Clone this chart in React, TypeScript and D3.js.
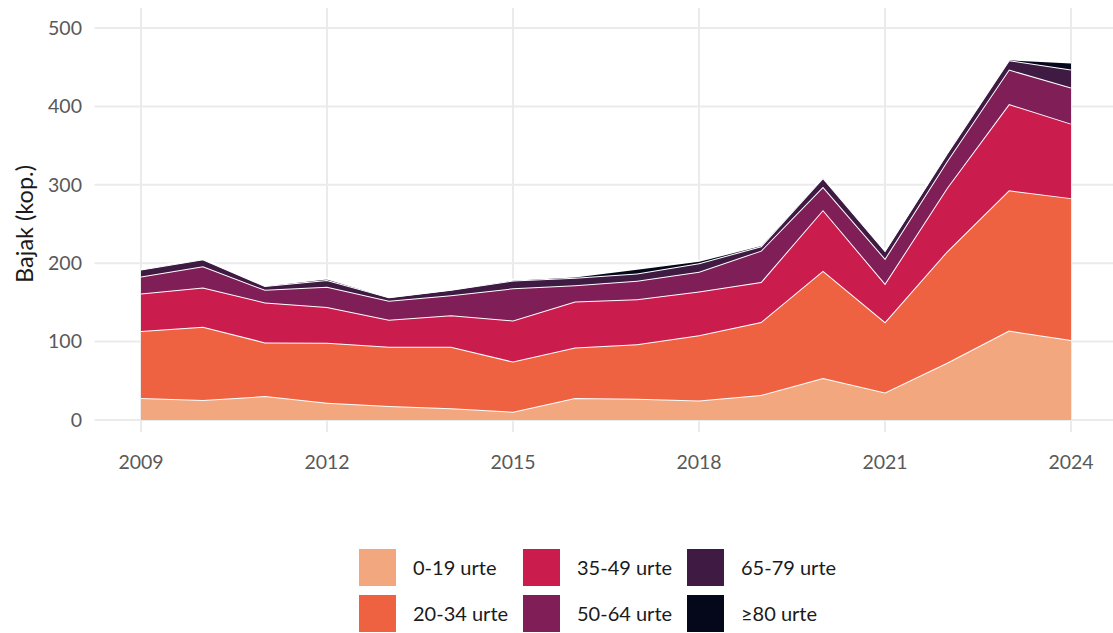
import React, { useEffect, useRef } from "react";
import * as d3 from "d3";

// years and the people in each age group (thousands)
const years = [2009, 2010, 2011, 2012, 2013, 2014, 2015, 2016, 2017, 2018, 2019, 2020, 2021, 2022, 2023, 2024];
const ageGroups = ["0-19 urte", "20-34 urte", "35-49 urte", "50-64 urte", "65-79 urte", "≥80 urte"];
const age0to19 = [28, 25.5, 30.5, 22, 18, 15, 10.5, 28, 27, 25, 32, 53.5, 35, 73, 114, 102];
const age20to34 = [85.5, 93.5, 68.5, 76.5, 75.5, 78.5, 64, 64.5, 69.5, 83, 93, 137, 90, 142, 179, 181];
const age35to49 = [48, 50, 51, 45.5, 34.5, 40, 52.5, 58.5, 57.5, 56, 51, 77.5, 49, 81, 110, 95];
const age50to64 = [21.5, 27, 16, 26, 24, 25.5, 41, 21, 23.5, 25, 40, 29.5, 32, 34, 44, 46];
const age65to79 = [9, 9, 5, 8.5, 4.5, 7, 10, 9.5, 9.5, 11, 5.5, 11.5, 10, 10, 12, 23];
const age80plus = [0.5, 0.5, 0.5, 2, 0.5, 0.5, 1, 1.5, 6, 3, 1.5, 1, 0.5, 1, 1, 9];
const xTicks = [2009, 2012, 2015, 2018, 2021, 2024];
const yTicks = [0, 100, 200, 300, 400, 500];
const colors = ["#F3A77F", "#EE6242", "#CB1C4E", "#801E57", "#3F1A43", "#05071B"];

const series = [age0to19, age20to34, age35to49, age50to64, age65to79, age80plus];

export default function App() {
  const ref = useRef<SVGSVGElement>(null);

  useEffect(() => {
    const svg = d3.select(ref.current);
    svg.selectAll("*").remove();

    const font = "Lato, 'Open Sans', sans-serif";
    const rows = years.map((yr, i) => {
      const r: any = { year: yr };
      ageGroups.forEach((g, k) => (r[g] = series[k][i]));
      return r;
    });

    const x = d3.scaleLinear().domain([2009, 2024]).range([141, 1071]);
    const y = d3.scaleLinear().domain([0, 500]).range([420, 28]);
    const panel = { left: x(2009) - 46.5, right: x(2024) + 46.5, top: 8, bottom: 432 };

    // grid
    const grid = svg.append("g");
    grid.selectAll("line.h").data(yTicks).join("line")
      .attr("x1", panel.left).attr("x2", panel.right)
      .attr("y1", (d) => y(d)).attr("y2", (d) => y(d))
      .attr("stroke", "#EBEBEB").attr("stroke-width", 2);
    grid.selectAll("line.v").data(xTicks).join("line")
      .attr("x1", (d) => x(d)).attr("x2", (d) => x(d))
      .attr("y1", panel.top).attr("y2", panel.bottom)
      .attr("stroke", "#EBEBEB").attr("stroke-width", 2);

    const stacked = d3.stack().keys(ageGroups)(rows);
    const area = d3.area<any>()
      .x((d) => x(d.data.year))
      .y0((d) => y(d[0]))
      .y1((d) => y(d[1]));
    const top = d3.line<any>()
      .x((d) => x(d.data.year))
      .y((d) => y(d[1]));

    const g = svg.append("g");
    stacked.forEach((s, k) => {
      g.append("path").datum(s).attr("d", area).attr("fill", colors[k]);
      g.append("path").datum(s).attr("d", top)
        .attr("fill", "none").attr("stroke", "white").attr("stroke-width", 2);
    });

    // axis labels
    svg.append("g").selectAll("text").data(yTicks).join("text")
      .attr("x", 82).attr("y", (d) => y(d)).attr("dy", "0.35em")
      .attr("text-anchor", "end").attr("font-family", font).attr("font-size", 19.5)
      .attr("fill", "#595959").text((d) => d);
    svg.append("g").selectAll("text").data(xTicks).join("text")
      .attr("x", (d) => x(d)).attr("y", 462).attr("dy", "0.35em")
      .attr("text-anchor", "middle").attr("font-family", font).attr("font-size", 19.5)
      .attr("fill", "#595959").text((d) => d);
    svg.append("text")
      .attr("transform", "translate(25,224) rotate(-90)")
      .attr("text-anchor", "middle").attr("dy", "0.35em")
      .attr("font-family", font).attr("font-size", 23.5).attr("fill", "#1A1A1A")
      .text("Bajak (kop.)");

    // legend, filled column by column
    const colX = [359, 523, 687];
    const rowY = [549, 595];
    const leg = svg.append("g");
    ageGroups.forEach((gname, k) => {
      const c = Math.floor(k / 2), r = k % 2;
      leg.append("rect").attr("x", colX[c]).attr("y", rowY[r])
        .attr("width", 37).attr("height", 37).attr("fill", colors[k]);
      leg.append("text").attr("x", colX[c] + 54).attr("y", rowY[r] + 18.5).attr("dy", "0.35em")
        .attr("font-family", font).attr("font-size", 20).attr("fill", "#1A1A1A").text(gname);
    });
  }, []);

  return (
    <svg ref={ref} width={1113} height={633}
      style={{ position: "absolute", left: 0, top: 0, background: "white" }} />
  );
}
